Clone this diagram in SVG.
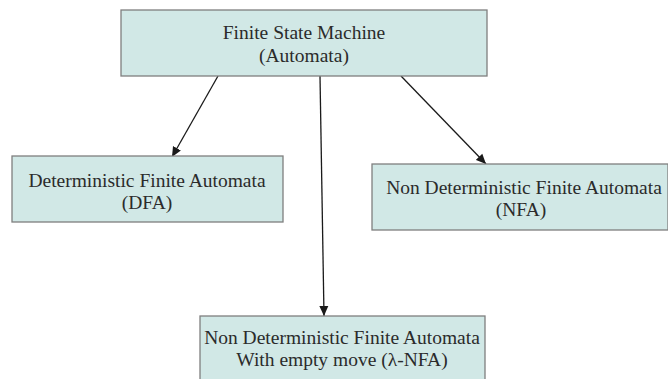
<svg xmlns="http://www.w3.org/2000/svg" width="668" height="379" viewBox="0 0 668 379">
  <style>
    .box { fill: #d1e8e6; stroke: #7f7f7f; stroke-width: 1.3; }
    .lbl { font-family: "Liberation Serif", "Times New Roman", serif; font-size: 19.5px; fill: #2b2b2b; text-anchor: middle; }
    .edge { stroke: #1a1a1a; stroke-width: 1.3; fill: none; marker-end: url(#arrow); }
  </style>
  <defs>
    <marker id="arrow" viewBox="0 0 10 10" refX="10" refY="5" markerWidth="10" markerHeight="10" markerUnits="userSpaceOnUse" orient="auto">
      <path d="M0,0.5 L10,5 L0,9.5 z" fill="#1a1a1a"/>
    </marker>
  </defs>

  <g id="connectors">
    <line class="edge" x1="218" y1="76" x2="172" y2="157"/>
    <line class="edge" x1="320" y1="76" x2="324" y2="316"/>
    <line class="edge" x1="401" y1="76" x2="486" y2="164"/>
  </g>

  <g id="fsm">
    <rect class="box" x="121" y="10" width="366" height="66"/>
    <text class="lbl" x="304" y="39">Finite State Machine</text>
    <text class="lbl" x="304" y="62">(Automata)</text>
  </g>

  <g id="dfa">
    <rect class="box" x="12" y="156" width="271" height="66"/>
    <text class="lbl" x="147" y="187">Deterministic Finite Automata</text>
    <text class="lbl" x="147" y="209">(DFA)</text>
  </g>

  <g id="nfa">
    <rect class="box" x="372" y="164" width="296" height="66"/>
    <text class="lbl" x="524" y="194">Non Deterministic Finite Automata</text>
    <text class="lbl" x="521" y="216">(NFA)</text>
  </g>

  <g id="lambda-nfa">
    <rect class="box" x="200" y="316" width="285" height="70"/>
    <text class="lbl" x="342" y="344">Non Deterministic Finite Automata</text>
    <text class="lbl" x="342" y="366">With empty move (λ-NFA)</text>
  </g>
</svg>
